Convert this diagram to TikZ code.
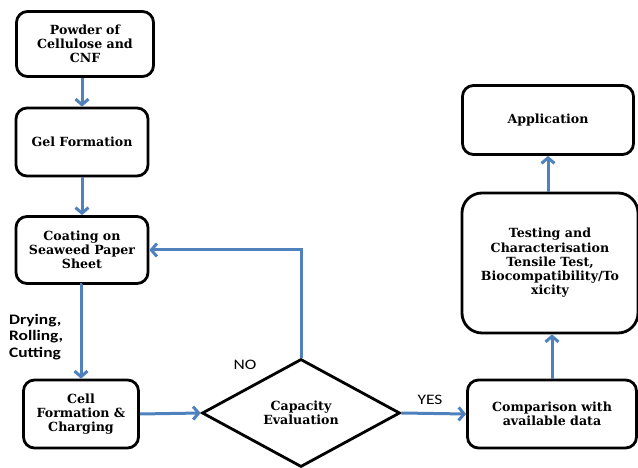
\documentclass[tikz,border=0pt]{standalone}
\usepackage{fontspec}
\setmainfont{DejaVu Serif}
\newfontfamily\labelfont[FakeStretch=1.2]{Carlito}
\usepackage{xcolor}
\usetikzlibrary{positioning, shapes.geometric, arrows.meta}
\definecolor{flowblue}{RGB}{79,129,189}

\begin{document}
\begin{tikzpicture}[x=1pt, y=-1pt,
    procbox/.style={draw, line width=2.8pt, rounded corners=11pt, align=center,
      inner sep=0pt, font=\bfseries\fontsize{12.6}{14.2}\selectfont},
    flowarrow/.style={flowblue, line width=3pt, -{Straight Barb[length=5.5pt, width=13pt]}},
    sidelabel/.style={font=\labelfont\fontsize{14.5}{16.5}\selectfont, inner sep=0pt}]
    \useasboundingbox (0,0) rectangle (638,468);

    % left column
    \node [procbox, minimum width=137pt, minimum height=65pt] (powder) at (85,44) {Powder of\\Cellulose and\\CNF};
    \node [procbox, minimum width=132pt, minimum height=68pt] (gel) at (82,142) {Gel Formation};
    \node [procbox, minimum width=132pt, minimum height=67pt] (coating) at (82,250) {Coating on\\Seaweed Paper\\Sheet};
    \node [procbox, minimum width=115pt, minimum height=68pt] (cell) at (81,414) {Cell\\Formation \&\\Charging};

    % decision
    \node [draw, diamond, line width=2.8pt, minimum width=198pt, minimum height=108pt, inner sep=0pt,
      align=center, font=\bfseries\fontsize{12.6}{14.2}\selectfont] (capacity) at (301,413) {Capacity\\Evaluation};

    % right column
    \node [procbox, minimum width=169pt, minimum height=68pt] (comparison) at (552,414) {Comparison with\\available data};
    \node [procbox, rounded corners=20pt, minimum width=176pt, minimum height=140pt] (testing) at (550,263) {Testing and\\Characterisation\\Tensile Test,\\Biocompatibility/To\\xicity};
    \node [procbox, minimum width=171pt, minimum height=69pt] (application) at (548,120) {Application};

    % labels
    \node [sidelabel] (no) at (245,365) {NO};
    \node [sidelabel] (yes) at (430,400) {YES};
    \node [sidelabel, font=\labelfont\bfseries\fontsize{14.5}{16.5}\selectfont, align=left, anchor=west] (steps) at (9,337) {Drying,\\Rolling,\\Cutting};

    % connectors
    \draw [flowarrow] (powder.south -| gel.north) to (gel.north);
    \draw [flowarrow] (gel) to (coating);
    \draw [flowarrow] (coating.south) to (cell.south |- coating.south) to (cell.north);
    \draw [flowarrow] (cell.east) to (capacity.west);
    \draw [flowarrow] (capacity.north) |- (coating.east);
    \draw [flowarrow] (capacity.east) to (comparison.west);
    \draw [flowarrow] (comparison.north) to (comparison.north |- testing.south);
    \draw [flowarrow] (testing.north -| application.south) to (application.south);
\end{tikzpicture}
\end{document}
